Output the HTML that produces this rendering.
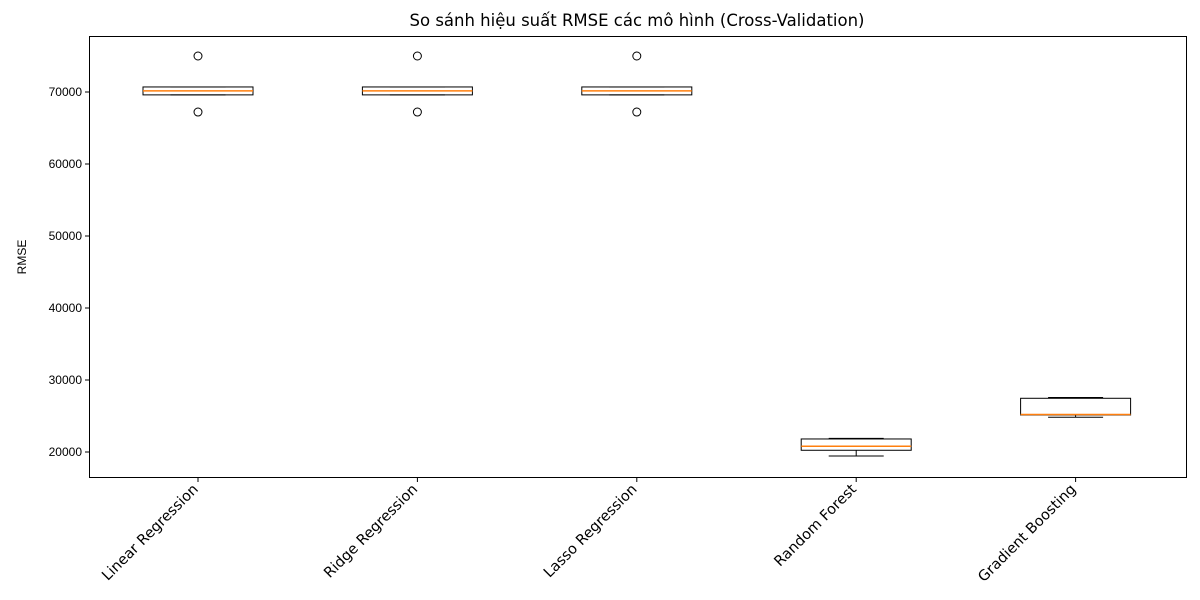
<!DOCTYPE html>
<html><head><meta charset="utf-8"><style>
html,body{margin:0;padding:0;background:#fff;}
svg{display:block;font-family:"Liberation Sans","DejaVu Sans",sans-serif;}
</style></head><body>
<svg id="chart" width="1200" height="600" xmlns="http://www.w3.org/2000/svg">
<rect x="0" y="0" width="1200" height="600" fill="#fff"/>
<text x="637" y="26" text-anchor="middle" font-size="16.5" font-family="DejaVu Sans, sans-serif">So sánh hiệu suất RMSE các mô hình (Cross-Validation)</text>
<text transform="translate(26,257) rotate(-90)" text-anchor="middle" font-size="12">RMSE</text>
<g id="marks"></g>
<rect x="89.5" y="36.5" width="1097" height="441" fill="none" stroke="#000" stroke-width="1"/>
</svg>
<script>
const categories = ["Linear Regression","Ridge Regression","Lasso Regression","Random Forest","Gradient Boosting"];
const q1Values = [69600, 69600, 69600, 20240, 25140];
const medianValues = [70150, 70150, 70150, 20790, 25200];
const q3Values = [70700, 70700, 70700, 21810, 27460];
const whiskerLow = [69600, 69600, 69600, 19440, 24820];
const whiskerHigh = [70700, 70700, 70700, 21900, 27570];
const outliers = [[75000, 67220],[75000, 67220],[75000, 67220],[],[]];
const yTicks = [20000, 30000, 40000, 50000, 60000, 70000];

const NS = "http://www.w3.org/2000/svg";
const svg = document.getElementById("chart");
const g = document.getElementById("marks");
function y(v){ return 452 - (v - 20000) * 0.0072; }
function x(i){ return 198 + i * 219.4; }
function el(tag, attrs){ const e = document.createElementNS(NS, tag); for (const k in attrs) e.setAttribute(k, attrs[k]); g.appendChild(e); return e; }

yTicks.forEach(t => {
  const ln = el("line", {x1:85, x2:89.5, y1:y(t), y2:y(t), stroke:"#000"});
  
  
  const tx = el("text", {x:82, y:y(t)+4, "text-anchor":"end", "font-size":"12"});
  tx.textContent = t;
  
  
});

categories.forEach((c, i) => {
  const cx = x(i), hw = 55, cw = 27.5;
  const tk = el("line", {x1:cx, x2:cx, y1:477.5, y2:482, stroke:"#000"});
  
  
  const lb = el("text", {transform:`translate(${cx+1},490) rotate(-45)`, "text-anchor":"end", "font-size":"14.5", "font-family":"DejaVu Sans, sans-serif"});
  lb.textContent = c;
  
  

  const w1 = el("line", {x1:cx, x2:cx, y1:y(q1Values[i]), y2:y(whiskerLow[i]), stroke:"#000"});
  
  
  const w2 = el("line", {x1:cx, x2:cx, y1:y(q3Values[i]), y2:y(whiskerHigh[i]), stroke:"#000"});
  
  
  const c1 = el("line", {x1:cx-cw, x2:cx+cw, y1:y(whiskerLow[i]), y2:y(whiskerLow[i]), stroke:"#000"});
  
  
  const c2 = el("line", {x1:cx-cw, x2:cx+cw, y1:y(whiskerHigh[i]), y2:y(whiskerHigh[i]), stroke:"#000"});
  
  
  const bx = el("rect", {x:cx-hw, y:y(q3Values[i]), width:2*hw, height:y(q1Values[i])-y(q3Values[i]), fill:"none", stroke:"#000"});
  
  
  const md = el("line", {x1:cx-hw, x2:cx+hw, y1:y(medianValues[i]), y2:y(medianValues[i]), stroke:"#ff7f0e", "stroke-width":1.5});
  
  
  outliers[i].forEach(v => {
    const o = el("circle", {cx:cx, cy:y(v), r:4, fill:"none", stroke:"#000"});
    
    
  });
});
</script>
</body></html>
